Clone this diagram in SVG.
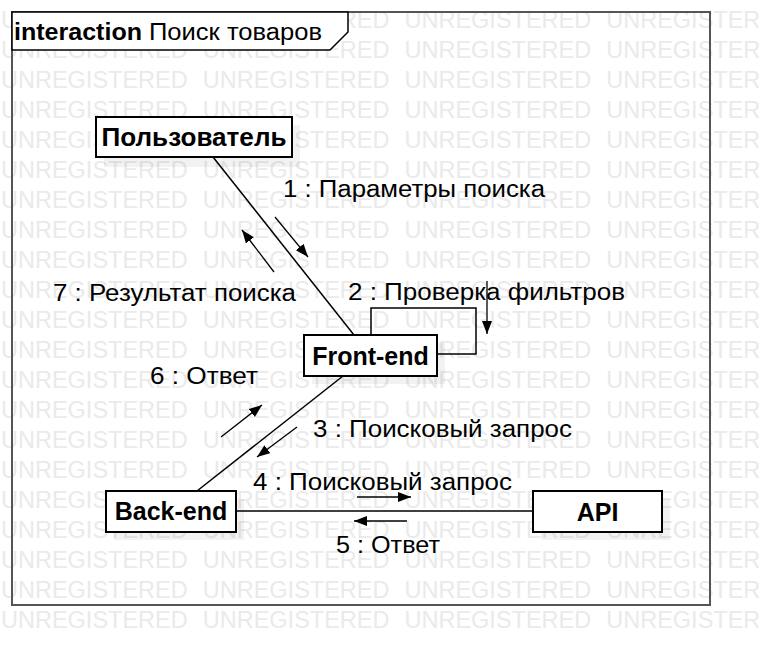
<svg xmlns="http://www.w3.org/2000/svg" width="761" height="657" viewBox="0 0 761 657">
<style>
.wm{font-family:"Liberation Sans",Arial,sans-serif;font-size:23.5px;fill:#eaeaea;word-spacing:8.5px}
.lbl{font-family:"Liberation Sans",Arial,sans-serif;font-size:23.5px;fill:#000}
.nm{font-family:"Liberation Sans",Arial,sans-serif;font-size:25px;font-weight:bold;fill:#000;text-anchor:middle}
.box{fill:#fff;stroke:#000;stroke-width:2}
.sh{fill:#000;fill-opacity:0.05}
.ln{fill:none;stroke:#000;stroke-width:1.5}
.ar{fill:none;stroke:#000;stroke-width:1.3}
</style>
<defs>
<marker id="ah" markerUnits="userSpaceOnUse" markerWidth="14" markerHeight="12" refX="13" refY="5" orient="auto">
<path d="M0,0 L13,5 L0,10 Z" fill="#000"/>
</marker>
</defs>
<rect x="0" y="0" width="761" height="657" fill="#fff"/>
<g id="watermark">
<text class="wm" x="1" y="28">UNREGISTERED UNREGISTERED UNREGISTERED UNREGISTERED</text>
<text class="wm" x="1" y="58">UNREGISTERED UNREGISTERED UNREGISTERED UNREGISTERED</text>
<text class="wm" x="1" y="88">UNREGISTERED UNREGISTERED UNREGISTERED UNREGISTERED</text>
<text class="wm" x="1" y="118">UNREGISTERED UNREGISTERED UNREGISTERED UNREGISTERED</text>
<text class="wm" x="1" y="148">UNREGISTERED UNREGISTERED UNREGISTERED UNREGISTERED</text>
<text class="wm" x="1" y="178">UNREGISTERED UNREGISTERED UNREGISTERED UNREGISTERED</text>
<text class="wm" x="1" y="208">UNREGISTERED UNREGISTERED UNREGISTERED UNREGISTERED</text>
<text class="wm" x="1" y="238">UNREGISTERED UNREGISTERED UNREGISTERED UNREGISTERED</text>
<text class="wm" x="1" y="268">UNREGISTERED UNREGISTERED UNREGISTERED UNREGISTERED</text>
<text class="wm" x="1" y="298">UNREGISTERED UNREGISTERED UNREGISTERED UNREGISTERED</text>
<text class="wm" x="1" y="328">UNREGISTERED UNREGISTERED UNREGISTERED UNREGISTERED</text>
<text class="wm" x="1" y="358">UNREGISTERED UNREGISTERED UNREGISTERED UNREGISTERED</text>
<text class="wm" x="1" y="388">UNREGISTERED UNREGISTERED UNREGISTERED UNREGISTERED</text>
<text class="wm" x="1" y="418">UNREGISTERED UNREGISTERED UNREGISTERED UNREGISTERED</text>
<text class="wm" x="1" y="448">UNREGISTERED UNREGISTERED UNREGISTERED UNREGISTERED</text>
<text class="wm" x="1" y="478">UNREGISTERED UNREGISTERED UNREGISTERED UNREGISTERED</text>
<text class="wm" x="1" y="508">UNREGISTERED UNREGISTERED UNREGISTERED UNREGISTERED</text>
<text class="wm" x="1" y="538">UNREGISTERED UNREGISTERED UNREGISTERED UNREGISTERED</text>
<text class="wm" x="1" y="568">UNREGISTERED UNREGISTERED UNREGISTERED UNREGISTERED</text>
<text class="wm" x="1" y="598">UNREGISTERED UNREGISTERED UNREGISTERED UNREGISTERED</text>
<text class="wm" x="1" y="628">UNREGISTERED UNREGISTERED UNREGISTERED UNREGISTERED</text>
</g>
<g id="frame">
<rect x="12" y="12" width="698" height="593" fill="none" stroke="#555" stroke-width="2"/>
<path d="M12,12 L348,12 L348,32 L330,50 L12,50 Z" fill="#fff" stroke="#000" stroke-width="1.5"/>
<text x="14" y="40" class="lbl" font-size="25" font-weight="bold" textLength="128" lengthAdjust="spacingAndGlyphs">interaction</text>
<text x="149" y="40" class="lbl" textLength="173" lengthAdjust="spacingAndGlyphs">Поиск товаров</text>
</g>
<g id="connectors">
<line class="ln" x1="213" y1="157" x2="354" y2="335"/>
<line class="ln" x1="343" y1="376" x2="197" y2="491"/>
<line class="ln" x1="236" y1="511" x2="533" y2="511"/>
<polyline class="ln" points="371,335 371,308 476,308 476,354 437,354"/>
<line class="ar" x1="275" y1="217" x2="308" y2="257" marker-end="url(#ah)"/>
<line class="ar" x1="274" y1="272" x2="242" y2="230" marker-end="url(#ah)"/>
<line class="ar" x1="487" y1="281" x2="487" y2="334" marker-end="url(#ah)"/>
<line class="ar" x1="297" y1="427" x2="257" y2="457" marker-end="url(#ah)"/>
<line class="ar" x1="221" y1="437" x2="262" y2="405" marker-end="url(#ah)"/>
<line class="ar" x1="357" y1="497" x2="411" y2="497" marker-end="url(#ah)"/>
<line class="ar" x1="407" y1="521" x2="354" y2="521" marker-end="url(#ah)"/>
<text class="lbl" x="283" y="197" textLength="262" lengthAdjust="spacingAndGlyphs">1 : Параметры поиска</text>
<text class="lbl" x="348" y="300" textLength="277" lengthAdjust="spacingAndGlyphs">2 : Проверка фильтров</text>
<text class="lbl" x="313" y="437" textLength="259" lengthAdjust="spacingAndGlyphs">3 : Поисковый запрос</text>
<text class="lbl" x="253" y="490" textLength="259" lengthAdjust="spacingAndGlyphs">4 : Поисковый запрос</text>
<text class="lbl" x="336" y="553" textLength="104" lengthAdjust="spacingAndGlyphs">5 : Ответ</text>
<text class="lbl" x="150" y="384" textLength="108" lengthAdjust="spacingAndGlyphs">6 : Ответ</text>
<text class="lbl" x="53" y="301" textLength="243" lengthAdjust="spacingAndGlyphs">7 : Результат поиска</text>
</g>
<g id="user">
<rect class="sh" x="104" y="125" width="196" height="42"/>
<rect class="box" x="96" y="117" width="196" height="40"/>
<text class="nm" x="194" y="146" textLength="185" lengthAdjust="spacingAndGlyphs">Пользователь</text>
</g>
<g id="frontend">
<rect class="sh" x="312" y="343" width="133" height="41"/>
<rect class="box" x="304" y="335" width="133" height="41"/>
<text class="nm" x="370.5" y="365">Front-end</text>
</g>
<g id="backend">
<rect class="sh" x="114" y="499" width="130" height="41"/>
<rect class="box" x="106" y="491" width="130" height="41"/>
<text class="nm" x="171" y="520">Back-end</text>
</g>
<g id="api">
<rect class="sh" x="541" y="499" width="129" height="41"/>
<rect class="box" x="533" y="491" width="129" height="41"/>
<text class="nm" x="597.5" y="521">API</text>
</g>
</svg>
